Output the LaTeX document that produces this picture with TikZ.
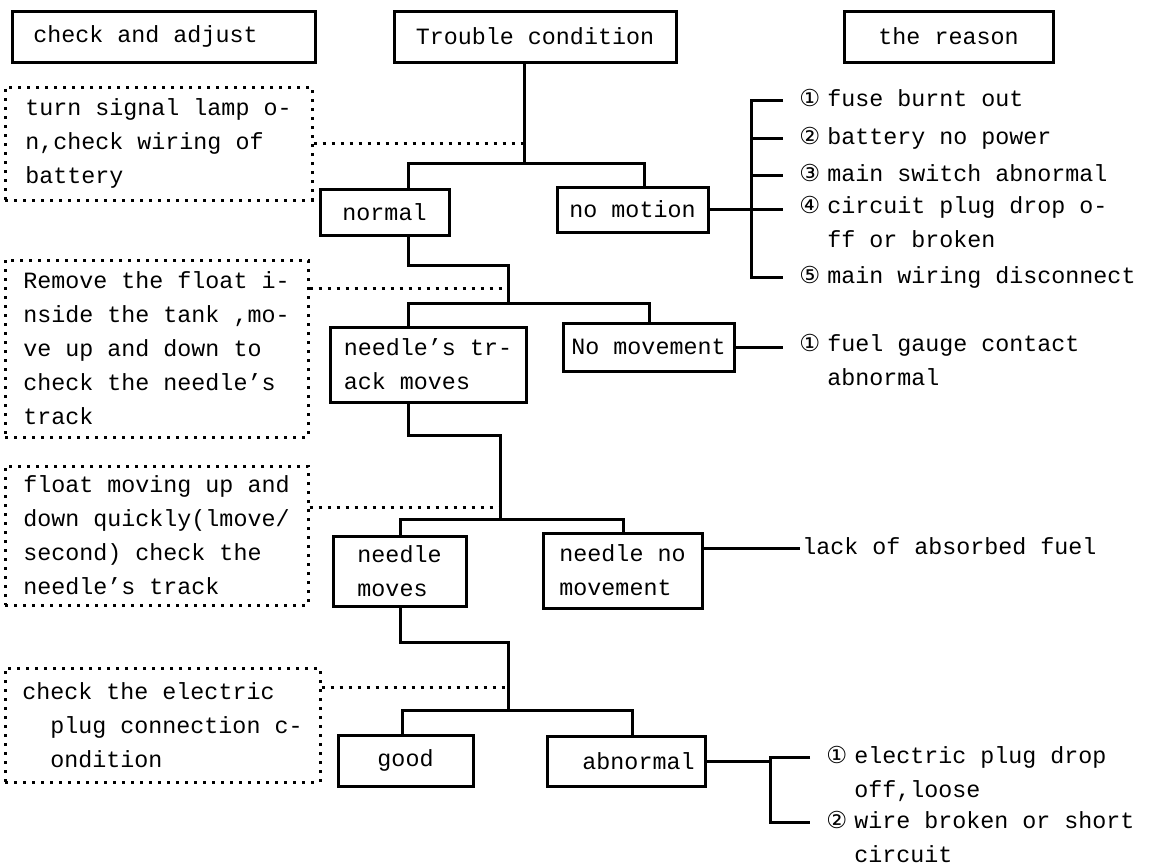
\documentclass[tikz,border=0pt]{standalone}
\usepackage{fontspec}
\setmonofont{Liberation Mono}
\newfontfamily\circfont{DejaVu Sans}
\usetikzlibrary{positioning}
\newcommand{\cn}[1]{\makebox[14pt][l]{\circfont #1}}
\newcommand{\ind}{\hspace*{14pt}}

\begin{document}
\begin{tikzpicture}[x=0.5pt, y=-0.5pt,
    font=\ttfamily\fontsize{11.67pt}{17pt}\selectfont,
    box/.style={draw, rectangle, line width=1.5pt, inner sep=0pt, align=left},
    dotbox/.style={box, dash pattern=on 1.5pt off 3pt},
    link/.style={line width=1.5pt},
    dotlink/.style={link, dash pattern=on 1.5pt off 3pt},
    why/.style={anchor=base west, inner xsep=8pt, inner ysep=0pt, align=left}]
  \useasboundingbox (0,0) rectangle (1149,867);
  \node[box, minimum width=151.5pt, minimum height=25.5pt] (ca) at (163.5,36.5) {check and adjust\hspace*{18pt}};
  \node[box, minimum width=141pt, minimum height=25.5pt] (tc) at (535,36.5) {Trouble condition};
  \node[box, minimum width=104.5pt, minimum height=25.5pt] (rs) at (948.5,36.5) {the reason};

  \node[dotbox, minimum width=153.5pt, minimum height=56.5pt] (c1) at (158.5,143.5)
    {turn signal lamp o-\\n,check wiring of\\battery};
  \node[dotbox, minimum width=151.5pt, minimum height=88.5pt] (c2) at (156.5,348.5)
    {Remove the float i-\\nside the tank ,mo-\\ve up and down to\\check the needle’s\\track};
  \node[dotbox, minimum width=151.5pt, minimum height=69.5pt] (c3) at (156.5,535.5)
    {float moving up and\\down quickly(lmove/\\second) check the\\needle’s track};
  \node[dotbox, minimum width=157.5pt, minimum height=57pt] (c4) at (162.5,725)
    {check the electric\\\ind plug connection c-\\\ind ondition};

  \node[box, minimum width=64.5pt, minimum height=23pt] (n) at (384.5,212) {normal};
  \node[box, minimum width=75.5pt, minimum height=22.5pt] (nm) at (632.5,209.5) {no motion};
  \node[box, minimum width=98pt, minimum height=37.5pt] (nt) at (428,364.5) {needle’s tr-\\ack moves};
  \node[box, minimum width=85.5pt, minimum height=24pt] (nv) at (648.5,347) {No movement};
  \node[box, minimum width=66.5pt, minimum height=35pt] (nd) at (399.5,571) {needle\\moves};
  \node[box, minimum width=79.5pt, minimum height=37.5pt] (nn) at (622.5,570.5) {needle no\\movement};
  \node[box, minimum width=67.5pt, minimum height=25.5pt] (gd) at (405.5,760.5) {good};
  \node[box, minimum width=79pt, minimum height=25pt] (ab) at (626,761) {\hspace*{12.5pt}abnormal};

  \node[why] (r1) at (783,106) {\cn{①}fuse burnt out};
  \node[why] (r2) at (783,144) {\cn{②}battery no power};
  \node[why] (r3) at (783,181) {\cn{③}main switch abnormal};
  \node[why] (r4) at (783,247) {\cn{④}circuit plug drop o-\\\ind ff or broken};
  \node[why] (r5) at (783,283) {\cn{⑤}main wiring disconnect};
  \node[why] (f1) at (783,385) {\cn{①}fuel gauge contact\\\ind abnormal};
  \node[why, inner xsep=1pt] (lk) at (800,554) {lack of absorbed fuel};
  \node[why] (e1) at (810,797) {\cn{①}electric plug drop\\\ind off,loose};
  \node[why] (e2) at (810,862) {\cn{②}wire broken or short\\\ind circuit};

  \coordinate (j1) at (524,163);
  \coordinate (a1) at (408,163);
  \coordinate (b1) at (644,163);
  \draw[link] (j1 |- tc.south) -- (j1);
  \draw[link] (a1 |- n.north) -- (a1) -- (b1) -- (b1 |- nm.north);
  \draw[dotlink] (c1.east) -- (c1.east -| j1);

  \coordinate (j2) at (508,265);
  \coordinate (a2) at (408,303);
  \coordinate (b2) at (649,303);
  \coordinate (d2) at (508,288);
  \draw[link] (a1 |- n.south) |- (j2) -- (j2 |- a2);
  \draw[link] (a2 |- nt.north) -- (a2) -- (b2) -- (b2 |- nv.north);
  \draw[dotlink] (d2 -| c2.east) -- (d2);

  \coordinate (j3) at (500,435);
  \coordinate (a3) at (400,519);
  \coordinate (b3) at (623,519);
  \coordinate (d3) at (500,507);
  \draw[link] (a2 |- nt.south) |- (j3) -- (j3 |- a3);
  \draw[link] (a3 |- nd.north) -- (a3) -- (b3) -- (b3 |- nn.north);
  \draw[dotlink] (d3 -| c3.east) -- (d3);

  \coordinate (j4) at (508,642);
  \coordinate (a4) at (402,710);
  \coordinate (b4) at (632,710);
  \coordinate (d4) at (508,687);
  \draw[link] (a3 |- nd.south) |- (j4) -- (j4 |- a4);
  \draw[link] (a4 |- gd.north) -- (a4) -- (b4) -- (b4 |- ab.north);
  \draw[dotlink] (d4 -| c4.east) -- (d4);

  \coordinate (kx) at (751,0);
  \coordinate (ex) at (770,0);
  \draw[link] (nm.east) -- (nm.east -| r4.west);
  \draw[link] ([yshift=3pt]r1.base west) -| ([yshift=3pt]kx |- r5.base) -- ([yshift=3pt]r5.base west);
  \foreach \r in {r2,r3}
    \draw[link] ([yshift=3pt]kx |- \r.base) -- ([yshift=3pt]\r.base west);
  \draw[link] (nv.east) -- (nv.east -| f1.west);
  \draw[link] ([yshift=3pt]lk.base west -| nn.east) -- ([yshift=3pt]lk.base west);
  \draw[link] (ab.east) -- (ab.east -| ex);
  \draw[link] ([yshift=20pt]e1.base west) -| ([yshift=20pt]ex |- e2.base) -- ([yshift=20pt]e2.base west);
\end{tikzpicture}
\end{document}
